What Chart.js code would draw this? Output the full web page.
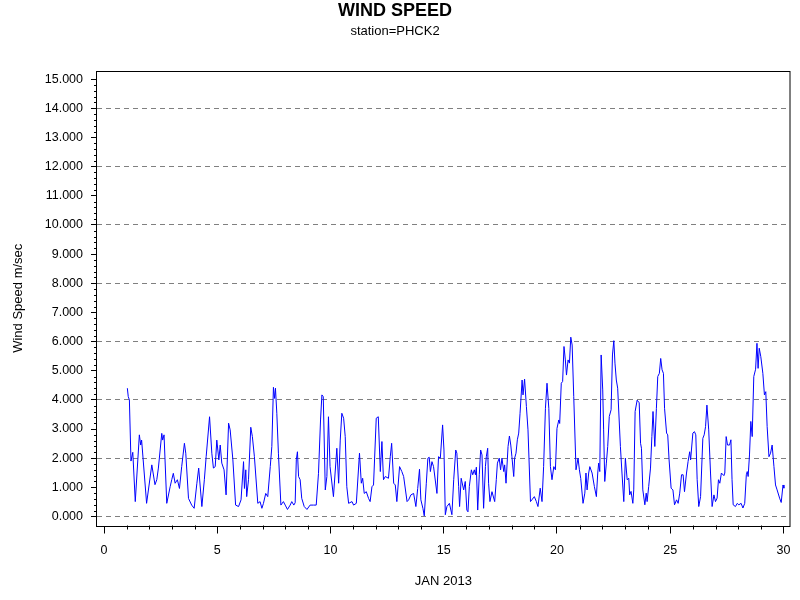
<!DOCTYPE html>
<html lang="en">
<head>
<meta charset="UTF-8">
<title>Wind Speed - PHCK2</title>
<script src="https://cdn.jsdelivr.net/npm/chart.js"></script>
<style>
  body { margin: 0; background: #ffffff; }
  .chart-wrapper { width: 800px; height: 600px; }
</style>
</head>
<body>

<div class="chart-wrapper">
  <canvas id="windChart" width="800" height="600"></canvas>
</div>

<script>
// Hourly-ish readings, day of month (JAN 2013) vs wind speed in m/sec
const days = [
  1.03, 1.07, 1.12, 1.19, 1.27, 1.38, 1.56, 1.62, 1.66, 1.88, 2.11, 2.25, 2.33, 2.40, 2.55, 2.59, 2.65, 2.77, 2.92, 2.99,
  3.06, 3.14, 3.24, 3.33, 3.43, 3.55, 3.61, 3.73, 3.87, 3.98, 4.10, 4.18, 4.32, 4.43, 4.51, 4.66, 4.76, 4.83, 4.91, 4.98,
  5.07, 5.13, 5.20, 5.30, 5.39, 5.50, 5.57, 5.69, 5.81, 5.94, 6.05, 6.16, 6.20, 6.26, 6.30, 6.38, 6.48, 6.55, 6.64, 6.79,
  6.89, 6.97, 7.04, 7.14, 7.23, 7.34, 7.41, 7.48, 7.53, 7.57, 7.63, 7.70, 7.81, 7.92, 8.00, 8.10, 8.22, 8.29, 8.38, 8.44,
  8.49, 8.54, 8.59, 8.66, 8.73, 8.84, 8.96, 9.10, 9.25, 9.37, 9.47, 9.56, 9.62, 9.68, 9.77, 9.84, 9.91, 9.98, 10.13, 10.28,
  10.36, 10.43, 10.50, 10.58, 10.65, 10.72, 10.80, 10.95, 11.02, 11.14, 11.28, 11.36, 11.42, 11.49, 11.58, 11.68, 11.75, 11.83, 11.90, 12.02,
  12.11, 12.20, 12.27, 12.34, 12.42, 12.56, 12.64, 12.70, 12.79, 12.86, 12.93, 13.05, 13.15, 13.23, 13.38, 13.45, 13.55, 13.67, 13.77, 13.85,
  13.93, 13.99, 14.08, 14.14, 14.23, 14.30, 14.36, 14.41, 14.48, 14.55, 14.70, 14.77, 14.85, 14.95, 15.01, 15.07, 15.14, 15.25, 15.36, 15.44,
  15.53, 15.58, 15.66, 15.70, 15.77, 15.88, 15.95, 16.02, 16.07, 16.13, 16.22, 16.28, 16.35, 16.40, 16.44, 16.50, 16.57, 16.63, 16.69, 16.76,
  16.84, 16.88, 16.94, 16.98, 17.04, 17.13, 17.25, 17.32, 17.37, 17.45, 17.51, 17.57, 17.65, 17.69, 17.75, 17.84, 17.90, 17.96, 18.01, 18.09,
  18.13, 18.19, 18.25, 18.31, 18.37, 18.46, 18.50, 18.57, 18.65, 18.72, 18.83, 18.89, 19.00, 19.09, 19.16, 19.26, 19.34, 19.41, 19.49, 19.56,
  19.64, 19.71, 19.78, 19.86, 19.93, 20.00, 20.08, 20.12, 20.19, 20.25, 20.31, 20.37, 20.42, 20.49, 20.55, 20.61, 20.67, 20.74, 20.84, 20.93,
  20.99, 21.05, 21.15, 21.23, 21.28, 21.33, 21.40, 21.45, 21.55, 21.65, 21.74, 21.80, 21.84, 21.89, 21.95, 22.02, 22.06, 22.11, 22.18, 22.24,
  22.31, 22.39, 22.45, 22.51, 22.56, 22.62, 22.68, 22.80, 22.87, 22.95, 23.02, 23.10, 23.17, 23.21, 23.27, 23.35, 23.39, 23.45, 23.54, 23.63,
  23.69, 23.73, 23.79, 23.88, 23.94, 23.98, 24.05, 24.13, 24.19, 24.24, 24.32, 24.39, 24.45, 24.52, 24.58, 24.64, 24.70, 24.75, 24.84, 24.89,
  24.95, 25.04, 25.12, 25.19, 25.28, 25.35, 25.42, 25.50, 25.57, 25.63, 25.72, 25.79, 25.86, 25.90, 26.00, 26.07, 26.13, 26.19, 26.26, 26.34,
  26.44, 26.50, 26.56, 26.62, 26.70, 26.78, 26.85, 26.93, 27.00, 27.07, 27.13, 27.19, 27.26, 27.37, 27.41, 27.47, 27.53, 27.62, 27.68, 27.73,
  27.78, 27.88, 27.96, 28.03, 28.13, 28.21, 28.29, 28.36, 28.40, 28.44, 28.50, 28.56, 28.62, 28.69, 28.77, 28.83, 28.88, 28.93, 29.00, 29.09,
  29.16, 29.22, 29.28, 29.36, 29.43, 29.50, 29.58, 29.65, 29.72, 29.83, 29.90, 29.98, 30.02
];
const speeds = [
  4.40, 4.11, 4.00, 1.90, 2.20, 0.51, 2.80, 2.45, 2.62, 0.45, 1.77, 1.09, 1.26, 1.66, 2.85, 2.62, 2.80, 0.45, 1.02, 1.26,
  1.48, 1.14, 1.26, 0.96, 1.71, 2.51, 2.17, 0.62, 0.39, 0.28, 1.14, 1.66, 0.34, 1.26, 2.05, 3.42, 2.17, 1.66, 1.71, 2.62,
  1.94, 2.45, 1.83, 1.60, 0.74, 3.20, 2.97, 1.94, 0.39, 0.34, 0.57, 1.88, 0.96, 1.60, 0.68, 1.26, 3.06, 2.74, 2.05, 0.45,
  0.51, 0.28, 0.45, 0.79, 0.68, 1.71, 2.40, 4.43, 4.05, 4.40, 3.54, 2.17, 0.39, 0.51, 0.39, 0.24, 0.39, 0.51, 0.39, 0.47,
  1.94, 2.22, 1.37, 1.26, 0.62, 0.34, 0.24, 0.39, 0.39, 0.39, 1.48, 3.31, 4.17, 4.11, 0.91, 1.37, 3.42, 1.71, 0.68, 2.34,
  1.14, 2.62, 3.54, 3.37, 2.74, 1.02, 0.45, 0.51, 0.39, 0.45, 2.17, 1.14, 1.31, 0.79, 0.85, 0.62, 0.51, 1.02, 1.08, 3.37,
  3.42, 1.54, 2.57, 1.26, 1.37, 1.31, 2.05, 2.51, 1.14, 1.08, 0.51, 1.71, 1.54, 1.37, 0.51, 0.57, 0.74, 0.79, 0.34, 0.96,
  1.62, 0.57, 0.28, 0.02, 1.14, 2.00, 2.03, 1.54, 1.88, 1.71, 0.79, 2.05, 2.00, 3.14, 2.28, 0.06, 0.34, 0.45, 0.06, 1.26,
  2.28, 2.17, 1.02, 0.34, 1.31, 0.91, 1.20, 0.22, 0.16, 1.03, 1.60, 1.43, 1.60, 1.43, 1.69, 0.22, 1.43, 2.28, 2.11, 0.28,
  1.71, 2.05, 2.34, 1.14, 0.51, 0.85, 0.51, 1.26, 1.83, 2.00, 1.60, 2.00, 1.54, 1.77, 1.14, 2.40, 2.76, 2.45, 2.05, 1.37,
  2.00, 2.17, 2.63, 2.86, 3.54, 4.68, 4.17, 4.71, 3.77, 2.97, 0.51, 0.57, 0.68, 0.51, 0.34, 0.97, 0.51, 1.71, 3.71, 4.57,
  3.71, 1.71, 1.26, 1.71, 1.60, 3.02, 3.31, 3.19, 4.57, 4.63, 5.83, 5.37, 4.85, 5.37, 5.26, 6.15, 5.88, 4.11, 1.60, 2.00,
  1.60, 1.30, 0.45, 0.80, 1.49, 0.91, 1.49, 1.71, 1.49, 1.03, 0.68, 1.49, 1.83, 1.54, 5.54, 4.34, 2.97, 1.20, 1.83, 2.40,
  3.43, 3.66, 5.54, 6.03, 5.26, 4.68, 4.40, 2.40, 1.49, 0.51, 2.00, 1.26, 1.31, 0.74, 0.86, 0.45, 0.91, 3.60, 3.99, 3.90,
  2.51, 2.34, 0.91, 0.40, 0.80, 0.51, 1.03, 1.66, 2.74, 3.60, 2.40, 3.71, 4.80, 4.91, 5.42, 5.03, 4.91, 3.71, 2.86, 2.80,
  1.94, 0.97, 0.91, 0.40, 0.57, 0.45, 0.80, 1.43, 1.43, 0.85, 1.49, 1.89, 2.22, 1.94, 2.86, 2.91, 2.80, 1.26, 0.34, 0.68,
  2.68, 2.80, 3.08, 3.82, 2.97, 1.49, 0.34, 0.74, 0.51, 0.63, 1.26, 1.14, 1.49, 1.40, 1.49, 2.74, 2.45, 2.45, 2.63, 1.26,
  0.40, 0.34, 0.45, 0.40, 0.45, 0.29, 0.45, 1.43, 1.54, 1.37, 2.11, 3.26, 2.74, 4.80, 5.05, 5.94, 5.08, 5.77, 5.48, 4.91,
  4.17, 4.28, 3.08, 2.05, 2.17, 2.45, 1.71, 1.08, 0.91, 0.63, 0.48, 1.08, 0.97
];

// Axis tick values
const yTickValues = [0, 1, 2, 3, 4, 5, 6, 7, 8, 9, 10, 11, 12, 13, 14, 15];
const xTickValues = [0, 5, 10, 15, 20, 25, 30];

const fontFamily = "'Liberation Sans', Arial, Helvetica, sans-serif";
Chart.defaults.font.family = fontFamily;
Chart.defaults.color = '#000000';

// Box around the plot area plus the small minor ticks on both axes
const frameAndMinorTicks = {
  id: 'frameAndMinorTicks',
  afterDraw(chart) {
    const { ctx, chartArea, scales: { x, y } } = chart;
    ctx.save();
    ctx.strokeStyle = '#000000';
    ctx.lineWidth = 1;
    ctx.beginPath();
    // y minor ticks every 0.2
    for (let i = 0; i <= 75; i++) {
      if (i % 5 === 0) continue;
      const py = Math.round(y.getPixelForValue(i / 5)) + 0.5;
      ctx.moveTo(chartArea.left - 3, py);
      ctx.lineTo(chartArea.left, py);
    }
    // x minor ticks every day
    for (let d = 0; d <= 30; d++) {
      if (d % 5 === 0) continue;
      const px = Math.round(x.getPixelForValue(d)) + 0.5;
      ctx.moveTo(px, chartArea.bottom);
      ctx.lineTo(px, chartArea.bottom + 4);
    }
    ctx.stroke();
    ctx.strokeRect(Math.round(chartArea.left) - 0.5, Math.round(chartArea.top) + 0.5,
      Math.round(chartArea.right - chartArea.left) + 0.5, Math.round(chartArea.bottom - chartArea.top));
    ctx.restore();
  }
};

const windChart = new Chart(document.getElementById('windChart').getContext('2d'), {
  type: 'line',
  data: {
    datasets: [{
      label: 'Wind Speed',
      data: days.map((d, i) => ({ x: d, y: speeds[i] })),
      borderColor: '#0000ff',
      borderWidth: 1,
      pointRadius: 0,
      tension: 0,
      fill: false
    }]
  },
  options: {
    responsive: false,
    devicePixelRatio: 1,
    animation: false,
    layout: { padding: { top: 0, right: 10, bottom: 0, left: 0 } },
    plugins: {
      legend: { display: false },
      tooltip: { enabled: false },
      title: {
        display: true,
        text: 'WIND SPEED',
        font: { size: 18, weight: 'bold' },
        color: '#000000',
        padding: { top: 0.5, bottom: 0 }
      },
      subtitle: {
        display: true,
        text: 'station=PHCK2',
        font: { size: 13 },
        color: '#000000',
        padding: { top: 1.5, bottom: 31.8 }
      }
    },
    scales: {
      x: {
        type: 'linear',
        min: -0.31,
        max: 30.28,
        afterBuildTicks: s => { s.ticks = xTickValues.map(v => ({ value: v })); },
        afterFit: s => { s.height = 74.5; },
        ticks: { font: { size: 12.5 }, padding: 9.5, maxRotation: 0, autoSkip: false, callback: v => v },
        grid: { drawOnChartArea: false, tickLength: 8, tickColor: '#000000' },
        border: { display: false },
        title: { display: true, text: 'JAN 2013', font: { size: 13 }, padding: { top: 0, bottom: 11.2 } }
      },
      y: {
        type: 'linear',
        min: -0.31,
        max: 15.28,
        afterBuildTicks: s => { s.ticks = yTickValues.map(v => ({ value: v })); },
        afterFit: s => { s.width = 97; },
        ticks: { font: { size: 12.5 }, padding: 8, callback: v => Number(v).toFixed(3) },
        grid: {
          color: c => (c.tick && c.tick.value % 2 === 0) ? '#808080' : 'rgba(0,0,0,0)',
          tickLength: 6,
          tickColor: '#000000'
        },
        border: { display: false, dash: [5, 4] },
        title: { display: true, text: 'Wind Speed m/sec', font: { size: 13 }, padding: { top: 10.7, bottom: 0 } }
      }
    }
  },
  plugins: [frameAndMinorTicks]
});
</script>

</body>
</html>
